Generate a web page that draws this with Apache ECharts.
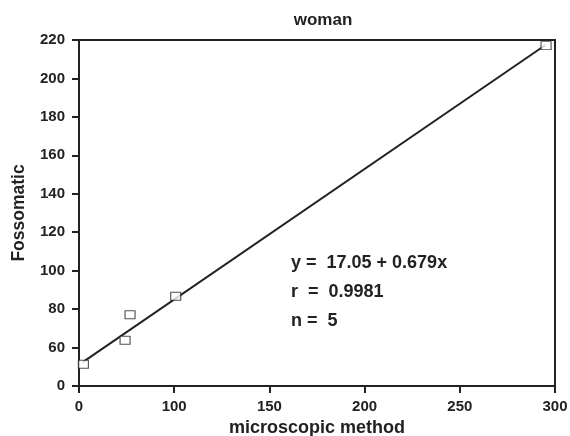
<!DOCTYPE html>
<html>
<head>
<meta charset="utf-8">
<script src="https://cdn.jsdelivr.net/npm/echarts@6/dist/echarts.min.js"></script>
<style>
  html, body { margin: 0; padding: 0; background: #fff; }
  #main { width: 570px; height: 436px; }
</style>
</head>
<body>
<div id="main"></div>
<script>
// measured points (x: microscopic method, y: Fossomatic)
var pointsX = [52.3, 74.2, 76.8, 100.8, 295.3];
var pointsY = [51.3, 63.8, 77.1, 86.7, 217.1];
// regression line ends
var lineX = [52, 295];
var lineY = [52.4, 217.4];
var statLines = ['y =  17.05 + 0.679x', 'r  =  0.9981', 'n =  5'];
// the axes are broken: the first tick is labelled 0
var xTicks = [50, 100, 150, 200, 250, 300];
var yTicks = [40, 60, 80, 100, 120, 140, 160, 180, 200, 220];

var ink = '#222';
var font = 'Liberation Sans, Arial, sans-serif';

function pairs(xs, ys) {
    var out = [];
    for (var i = 0; i < xs.length; i++) out.push([xs[i], ys[i]]);
    return out;
}

var myChart = echarts.init(document.getElementById('main'), null, {renderer: 'canvas'});
var option = {
    animation: false,
    backgroundColor: '#fff',
    title: {
        text: 'woman',
        left: 318,
        top: 7,
        textAlign: 'center',
        textStyle: {fontFamily: font, fontSize: 17, fontWeight: 'bold', color: ink}
    },
    grid: {
        left: 79, right: 15, top: 40, bottom: 50,
        outerBoundsMode: 'none',
        containLabel: false,
        show: true, borderColor: ink, borderWidth: 2, backgroundColor: 'transparent'
    },
    xAxis: {
        type: 'value',
        min: xTicks[0], max: xTicks[xTicks.length - 1], interval: 50,
        name: 'microscopic method',
        nameLocation: 'middle',
        nameGap: 25,
        nameTextStyle: {fontFamily: font, fontSize: 18, fontWeight: 'bold', color: ink},
        axisLine: {show: true, lineStyle: {color: ink, width: 2}},
        axisTick: {show: true, length: 7, lineStyle: {color: ink, width: 2}},
        axisLabel: {
            margin: 13, fontFamily: font, fontSize: 15, fontWeight: 'bold', color: ink,
            formatter: function (v) { return v === xTicks[0] ? '0' : String(v); }
        },
        splitLine: {show: false}
    },
    yAxis: {
        type: 'value',
        min: yTicks[0], max: yTicks[yTicks.length - 1], interval: 20,
        name: 'Fossomatic',
        nameLocation: 'middle',
        nameGap: 51,
        nameTextStyle: {fontFamily: font, fontSize: 17.5, fontWeight: 'bold', color: ink},
        axisLine: {show: true, lineStyle: {color: ink, width: 2}},
        axisTick: {show: true, length: 7, lineStyle: {color: ink, width: 2}},
        axisLabel: {
            margin: 14, fontFamily: font, fontSize: 15, fontWeight: 'bold', color: ink,
            formatter: function (v) { return v === yTicks[0] ? '0' : String(v); }
        },
        splitLine: {show: false}
    },
    series: [
        {
            type: 'line',
            data: pairs(lineX, lineY),
            showSymbol: false,
            symbol: 'none',
            lineStyle: {color: ink, width: 2},
            z: 2
        },
        {
            type: 'scatter',
            data: pairs(pointsX, pointsY),
            symbol: 'rect',
            symbolSize: [10, 8],
            itemStyle: {color: '#fff', borderColor: ink, borderWidth: 1},
            z: 3
        }
    ],
    graphic: statLines.map(function (t, i) {
        return {
            type: 'text',
            left: 291,
            top: 254 + i * 29,
            style: {text: t, fontFamily: font, fontSize: 18, fontWeight: 'bold', fill: ink}
        };
    })
};
myChart.clear();
myChart.setOption(option);
</script>
</body>
</html>
